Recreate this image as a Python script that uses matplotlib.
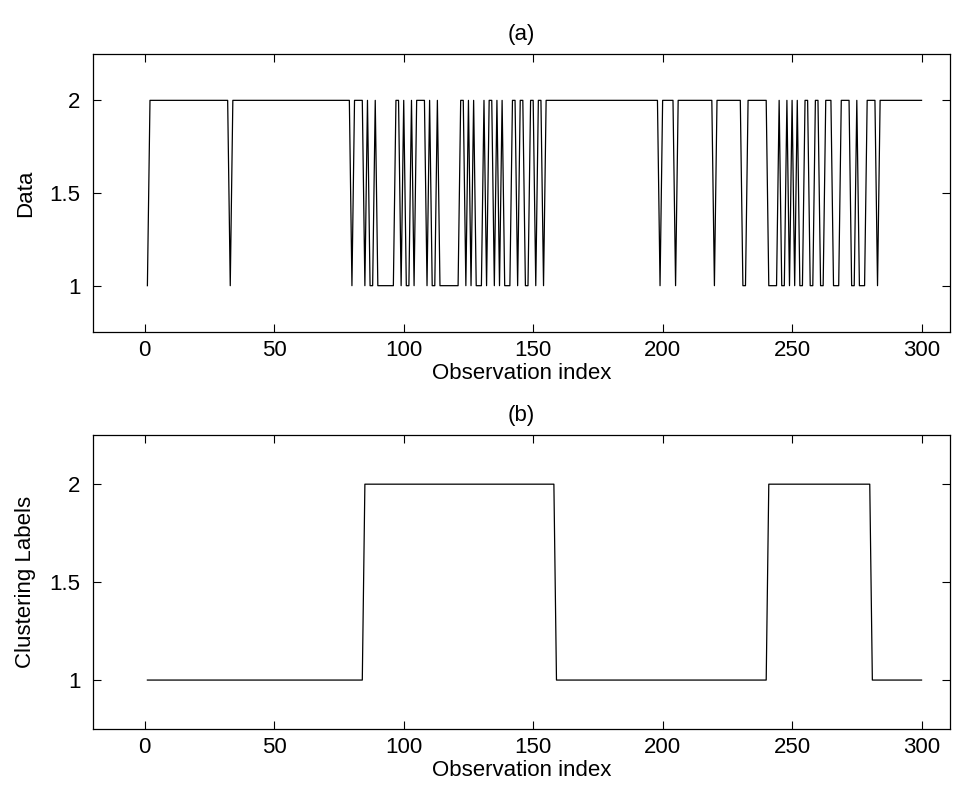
import numpy as np
import matplotlib
matplotlib.use("Agg")
import matplotlib.pyplot as plt

plt.rcParams['font.family'] = ['Liberation Sans', 'DejaVu Sans']

# observation index 1..300
obs_idx = np.arange(1, 301)

# positions (observation index) where the data equals 1; elsewhere it is 2
data_ones = [1, 33, 80, 85, 87, 88, 90, 91, 92, 93, 94, 95, 96, 99, 101, 102,
             104, 109, 111, 112, 114, 115, 116, 117, 118, 119, 120, 121, 124,
             126, 128, 129, 130, 132, 135, 137, 139, 140, 141, 144, 147, 148,
             151, 154, 199, 205, 220, 231, 232, 241, 242, 243, 244, 246, 247,
             249, 251, 253, 254, 257, 258, 261, 262, 266, 267, 268, 273, 274,
             276, 277, 278, 283]

# clustering label segments: (first index, last index, label)
label_segments = [(1, 84, 1), (85, 158, 2), (159, 240, 1), (241, 280, 2), (281, 300, 1)]

data = np.full(obs_idx.shape, 2.0)
data[np.isin(obs_idx, data_ones)] = 1.0

labels = np.zeros(obs_idx.shape)
for start, stop, lab in label_segments:
    labels[(obs_idx >= start) & (obs_idx <= stop)] = lab

fig = plt.figure(figsize=(9.64, 7.92), dpi=100)
ax1 = fig.add_axes([0.0965, 0.5808, 0.889, 0.351])
ax2 = fig.add_axes([0.0965, 0.0795, 0.889, 0.371])

panels = [(ax1, data, 'Data', '(a)'), (ax2, labels, 'Clustering Labels', '(b)')]
for ax, y, ylab, ttl in panels:
    ax.plot(obs_idx, y, color='black', linewidth=0.9)
    ax.set_xlim(-20, 311)
    ax.set_ylim(0.75, 2.25)
    ax.set_xticks(range(0, 301, 50))
    ax.set_yticks([1, 1.5, 2])
    ax.set_yticklabels(['1', '1.5', '2'])
    ax.tick_params(direction='in', top=True, right=True, length=6, width=0.8,
                   labelsize=16, pad=6)
    ax.tick_params(axis='y', pad=9)
    ax.set_xlabel('Observation index', fontsize=16, labelpad=1)
    ax.set_ylabel(ylab, fontsize=16, labelpad=10)
    ax.set_title(ttl, fontsize=16, pad=10)
    for s in ax.spines.values():
        s.set_linewidth(0.9)

fig.savefig('out.png', dpi=100)
